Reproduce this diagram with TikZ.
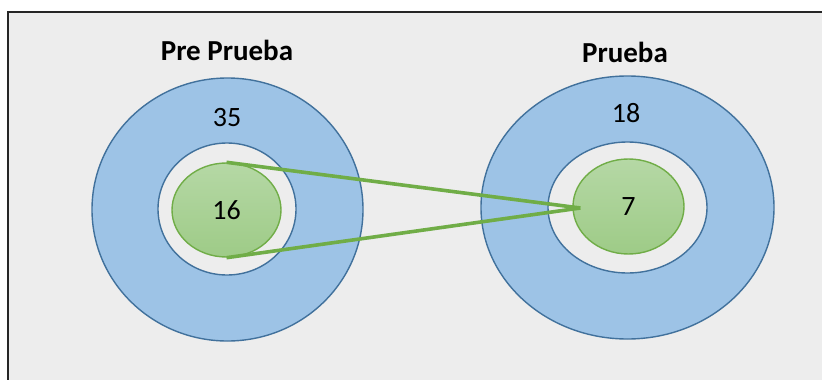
\documentclass[tikz,border=0pt]{standalone}
\usepackage{fontspec}
\setmainfont{Carlito}
\usetikzlibrary{shapes.geometric}
\definecolor{panelbg}{HTML}{EDEDED}
\definecolor{ringfill}{HTML}{9DC3E6}
\definecolor{ringline}{HTML}{41719C}
\definecolor{coreline}{HTML}{70AD47}
\definecolor{coretop}{HTML}{B5D8A5}
\definecolor{corebot}{HTML}{9ECB87}
\tikzset{
  ring/.style={ellipse, draw=ringline, line width=1.4pt, fill=ringfill, inner sep=0pt},
  hole/.style={ellipse, draw=ringline, line width=1.4pt, fill=panelbg, inner sep=0pt},
  core/.style={ellipse, draw=coreline, line width=1.4pt, top color=coretop, bottom color=corebot, inner sep=0pt, font=\fontsize{28}{30}\selectfont},
  title/.style={font=\fontsize{29}{32}\selectfont\bfseries},
  count/.style={font=\fontsize{28}{30}\selectfont},
  link/.style={draw=coreline, line width=3.6pt}
}
\begin{document}
\begin{tikzpicture}[x=1pt,y=-1pt]
  \useasboundingbox (0,0) rectangle (822,380);
  % framed grey panel
  \fill[panelbg] (8,12) rectangle (824,382);
  \draw[line width=2pt, black!85] (8,382) -- (8,12) -- (824,12);

  % left set
  \node[ring, minimum width=271pt, minimum height=263pt] (outerL) at (227.5,209.5) {};
  \node[hole, minimum width=138pt, minimum height=132pt] (holeL) at (227,209) {};
  \node[core, minimum width=109pt, minimum height=94pt] (coreL) at (226.5,210) {16};
  \node[count] (nL) at (227,118) {35};
  \node[title] (tL) at (227,50) {Pre Prueba};

  % right set
  \node[ring, minimum width=293pt, minimum height=263pt] (outerR) at (627.5,207.5) {};
  \node[hole, minimum width=159pt, minimum height=131pt] (holeR) at (627.5,207.5) {};
  \node[core, minimum width=111pt, minimum height=95pt] (coreR) at (628.5,206.5) {7};
  \node[count] (nR) at (626,113) {18};
  \node[title] (tR) at (625,52) {Prueba};

  % connectors between the cores
  \coordinate (tip) at ([xshift=8pt,yshift=-1.5pt]coreR.west);
  \draw[link] (coreL.north) -- (tip);
  \draw[link] (coreL.south) -- (tip);
\end{tikzpicture}
\end{document}
